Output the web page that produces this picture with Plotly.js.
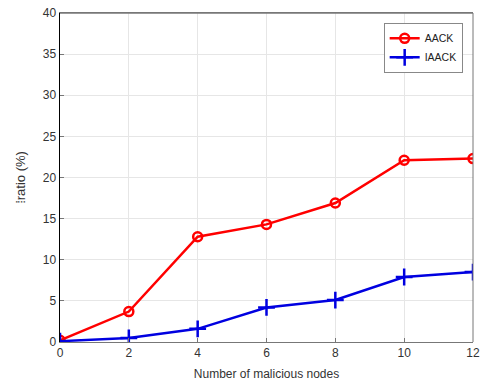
<!DOCTYPE html>
<html><head><meta charset="utf-8">
<script src="https://cdn.plot.ly/plotly-3.0.1.min.js"></script>
<style>body{margin:0;background:#fff}#c{width:481px;height:382px}</style>
</head><body><div id="c"></div>
<script>
const nodes = [0, 2, 4, 6, 8, 10, 12];
const aack = [0.2, 3.7, 12.8, 14.3, 16.9, 22.1, 22.3];
const iaack = [0.1, 0.5, 1.6, 4.2, 5.1, 7.9, 8.5];
const xTicks = [0, 2, 4, 6, 8, 10, 12];
const yTicks = [0, 5, 10, 15, 20, 25, 30, 35, 40];

const traces = [
  {x: nodes, y: aack, name: 'AACK', mode: 'lines+markers',
   line: {color: '#ff0000', width: 2.5},
   marker: {symbol: 'circle-open', size: 9, color: '#ff0000', line: {width: 2.5, color: '#ff0000'}}},
  {x: nodes, y: iaack, name: 'IAACK', mode: 'lines+markers',
   line: {color: '#0000e0', width: 2.5},
   marker: {symbol: 'cross-thin-open', size: 12, color: '#0000e0', line: {width: 2.5, color: '#0000e0'}}}
];
const layout = {
  width: 481, height: 382,
  margin: {l: 60, r: 8, t: 13, b: 40},
  paper_bgcolor: '#fff', plot_bgcolor: '#fff',
  font: {family: 'Liberation Sans, Arial, sans-serif', size: 12, color: '#333'},
  showlegend: true,
  legend: {x: 0.975, y: 0.97, xanchor: 'right', yanchor: 'top', bgcolor: '#fff',
           bordercolor: '#888', borderwidth: 1, font: {size: 10.5, color: '#222'},
           tracegroupgap: 0, itemwidth: 30},
  xaxis: {range: [0, 12], tickvals: xTicks, ticktext: xTicks.map(String),
          showgrid: true, gridcolor: '#e6e6e6', zeroline: false,
          showline: true, linecolor: '#777', linewidth: 1, mirror: true,
          ticks: 'inside', ticklen: 4, tickcolor: '#777',
          title: {text: 'Number of malicious nodes', font: {size: 12, color: '#333'}, standoff: 10}},
  yaxis: {range: [0, 40], tickvals: yTicks, ticktext: yTicks.map(String),
          showgrid: true, gridcolor: '#e6e6e6', zeroline: false,
          showline: true, linecolor: '#000', linewidth: 1.5, mirror: false,
          ticks: 'inside', ticklen: 4, tickcolor: '#777',
          title: {text: '⁞ratio (%)', font: {size: 13, color: '#333'}, standoff: 14}},
  shapes: [
    {type: 'line', xref: 'paper', yref: 'paper', x0: 1, x1: 1, y0: 0, y1: 1, line: {color: '#777', width: 1}},
    {type: 'line', xref: 'paper', yref: 'paper', x0: 0, x1: 1, y0: 1, y1: 1, line: {color: '#777', width: 1.5}}
  ]
};
Plotly.newPlot('c', traces, layout, {displayModeBar: false, staticPlot: true});
</script></body></html>
